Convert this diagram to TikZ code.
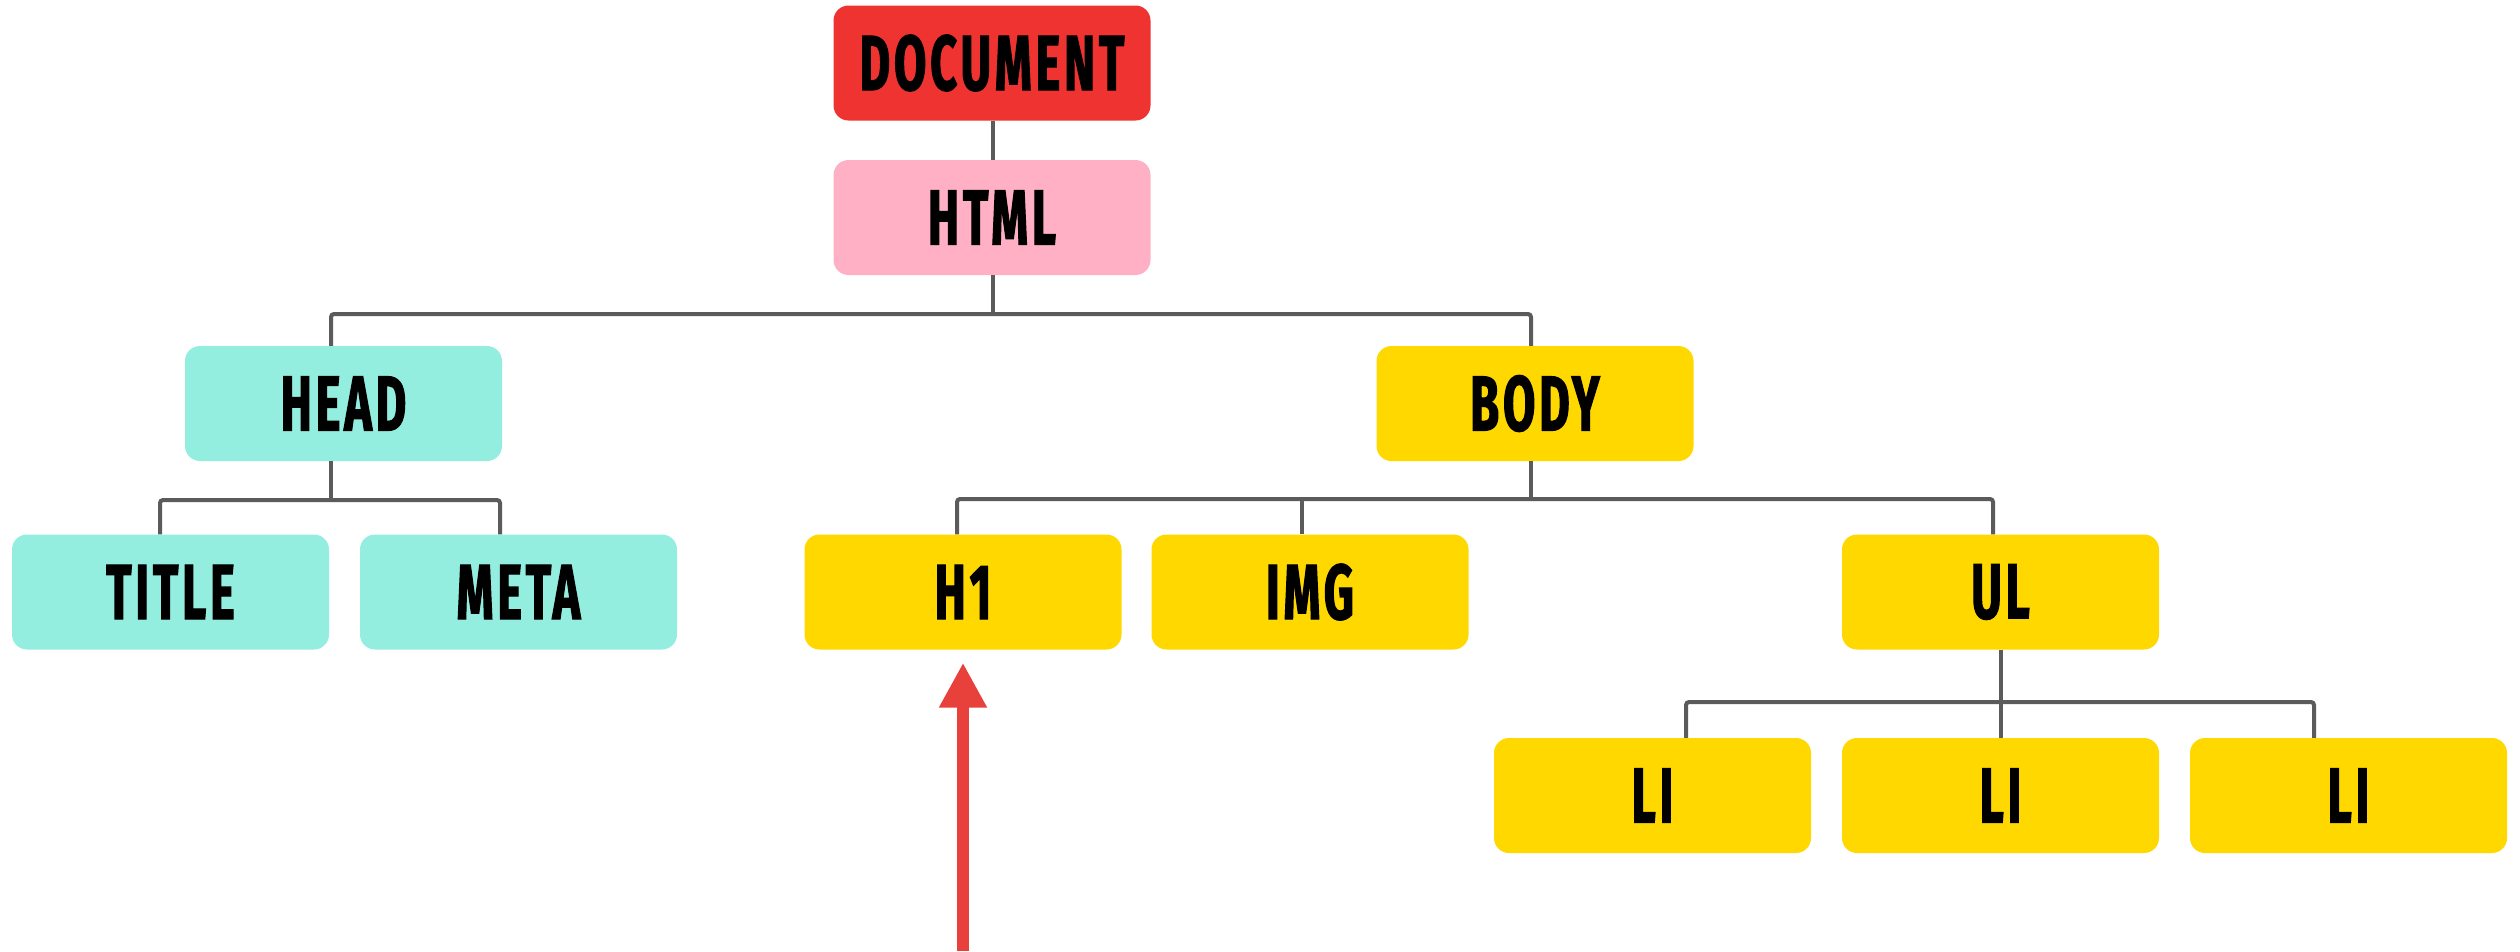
\documentclass[tikz,border=0pt]{standalone}
\usepackage{fontspec}
\newfontfamily\lblfont{Fira Sans}[FakeStretch=0.6, FakeBold=1.5, LetterSpace=5]
\usetikzlibrary{arrows.meta,calc}
\definecolor{docred}{HTML}{EE3331}
\definecolor{htmlpink}{HTML}{FFB0C4}
\definecolor{aqua}{HTML}{93EEDF}
\definecolor{gold}{HTML}{FFD800}
\definecolor{conngray}{HTML}{5B5B5B}
\definecolor{arrowred}{HTML}{E8403A}
\begin{document}
\begin{tikzpicture}[x=1pt,y=-1pt,
  box/.style={rectangle, rounded corners=15pt, minimum width=317pt, minimum height=115pt,
    inner sep=0pt, text=black, font=\lblfont\bfseries\fontsize{78}{80}\selectfont},
  docbox/.style={box, fill=docred},
  htmlbox/.style={box, fill=htmlpink},
  headbox/.style={box, fill=aqua},
  bodybox/.style={box, fill=gold},
  conn/.style={draw=conngray, line width=4pt, rounded corners=3pt},
  pointer/.style={draw=arrowred, line width=12pt, -{Triangle[width=45pt,length=45pt]}, shorten >=13pt}]
\useasboundingbox (0,0) rectangle (2520,951);

% nodes
\node[docbox]  (doc)   at (992,63)     {DOCUMENT};
\node[htmlbox] (html)  at (992,217.5)  {HTML};
\node[headbox] (head)  at (343.5,403.5) {HEAD};
\node[bodybox] (body)  at (1535,403.5) {BODY};
\node[headbox] (title) at (170.5,592)  {TITLE};
\node[headbox] (meta)  at (518.5,592)  {META};
\node[bodybox] (h1)    at (963,592)    {H1};
\node[bodybox] (img)   at (1310,592)   {IMG};
\node[bodybox] (ul)    at (2000.5,592) {UL};
\node[bodybox] (li1)   at (1652.5,795.5) {LI};
\node[bodybox] (li2)   at (2000.5,795.5) {LI};
\node[bodybox] (li3)   at (2348.5,795.5) {LI};

% junctions
\coordinate (jhtml) at (993,314);
\coordinate (jhead) at (331,500);
\coordinate (jbody) at (1531,499);
\coordinate (jul)   at (2000.5,702);
\coordinate (pbase) at (963,951);

% connectors
\draw[conn] ([xshift=1pt]doc.south) -- ([xshift=1pt]html.north);
\draw[conn] ([xshift=1pt]html.south) -- (jhtml);
\draw[conn] ([xshift=-12.5pt]head.north) |- (jhtml) -| ([xshift=-4pt]body.north);

\draw[conn] ([xshift=-12.5pt]head.south) -- (jhead);
\draw[conn] ([xshift=-10.5pt]title.north) |- (jhead) -| ([xshift=-18.5pt]meta.north);

\draw[conn] ([xshift=-4pt]body.south) -- (jbody);
\draw[conn] ([xshift=-6pt]h1.north) |- (jbody) -| ([xshift=-7.5pt]ul.north);
\draw[conn] ([xshift=-8pt]img.north) -- ([xshift=-8pt]img.north |- jbody);

\draw[conn] (ul.south) -- (jul);
\draw[conn] ([xshift=33.5pt]li1.north) |- (jul) -| ([xshift=-34.5pt]li3.north);
\draw[conn] (li2.north) -- (jul);

% red pointer
\draw[pointer] (pbase) -- (h1.south);
\end{tikzpicture}
\end{document}
